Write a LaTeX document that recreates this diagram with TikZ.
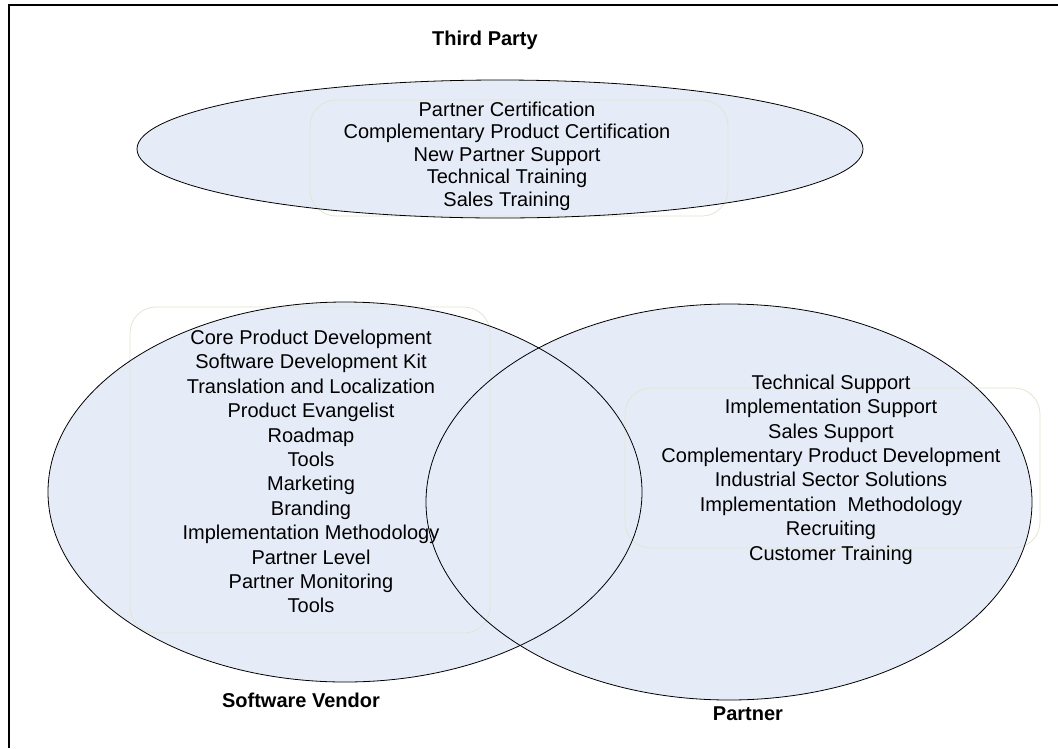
\documentclass[tikz,border=0pt]{standalone}
\usepackage{fontspec}
\setmainfont{Liberation Sans}
\usetikzlibrary{shapes.geometric}
\definecolor{vennfill}{RGB}{230,236,247}
\definecolor{boxline}{RGB}{228,228,212}
\begin{document}
\begin{tikzpicture}[x=1pt,y=-1pt,
  region/.style={ellipse, inner sep=0pt, fill=vennfill},
  listbox/.style={rounded corners=26pt, draw=boxline, line width=0.8pt},
  items/.style={align=center, inner sep=0pt, font=\fontsize{20}{24.4}\selectfont},
  itemstop/.style={align=center, inner sep=0pt, font=\fontsize{20}{22.5}\selectfont},
  heading/.style={inner sep=0pt, font=\fontsize{20}{24}\selectfont\bfseries}]
\useasboundingbox (0,0) rectangle (1058,748);

% frame (top and left edges only)
\draw[line width=2pt] (9,748) -- (9,5) -- (1058,5);

% filled regions
\node[region, minimum width=726pt, minimum height=138pt] (tp) at (500,149) {};
\node[region, minimum width=594pt, minimum height=380pt] (sv) at (345,492) {};
\node[region, minimum width=606pt, minimum height=396pt] (pt) at (729,502) {};

% faint rounded boxes around the lists
\draw[listbox] (310,100) rectangle (728,216);
\draw[listbox] (130,307) rectangle (490,633);
\draw[listbox] (625,388) rectangle (1040,548);

% outlines of the three regions
\draw[line width=0.8pt] (tp.center) ellipse [x radius=363pt, y radius=69pt];
\draw[line width=0.8pt] (sv.center) ellipse [x radius=297pt, y radius=190pt];
\draw[line width=0.8pt] (pt.center) ellipse [x radius=303pt, y radius=198pt];

% headings
\node[heading] (htp) at (485,40) {Third Party};
\node[heading] (hsv) at (301,700) {Software Vendor};
\node[heading] (hpt) at (748,714) {Partner};

% lists
\node[itemstop] (ltp) at (507,156) {Partner Certification\\Complementary Product Certification\\New Partner Support\\Technical Training\\Sales Training};
\node[items] (lsv) at (311,471.5) {Core Product Development\\Software Development Kit\\Translation and Localization\\Product Evangelist\\Roadmap\\Tools\\Marketing\\Branding\\Implementation Methodology\\Partner Level\\Partner Monitoring\\Tools};
\node[items] (lpt) at (831,469.5) {Technical Support\\Implementation Support\\Sales Support\\Complementary Product Development\\Industrial Sector Solutions\\Implementation~~Methodology\\Recruiting\\Customer Training};
\end{tikzpicture}
\end{document}
